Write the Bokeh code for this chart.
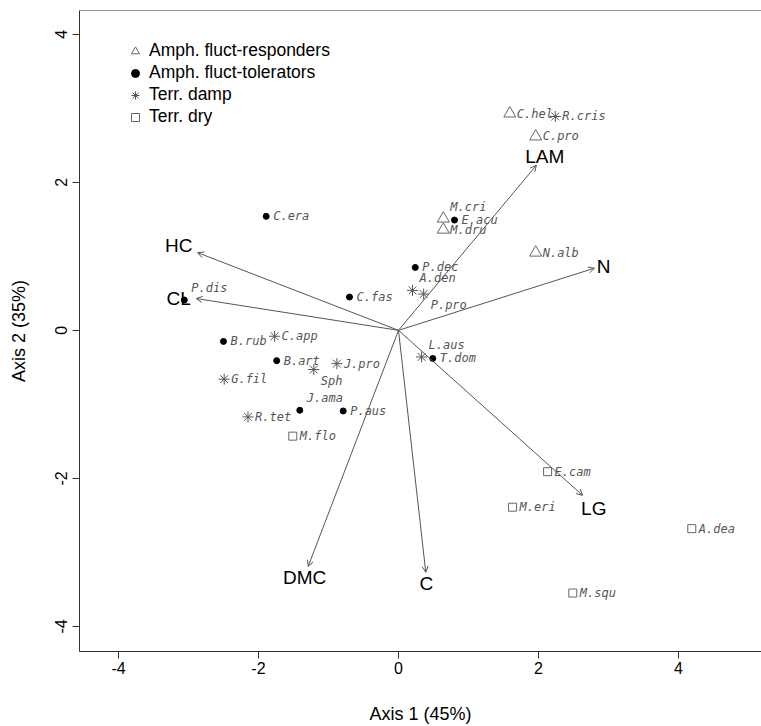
from bokeh.plotting import figure
from bokeh.models import (ColumnDataSource, Arrow, OpenHead, Legend, LegendItem,
                          FixedTicker, Span, Range1d)
from bokeh.core.properties import value
from bokeh.embed import file_html
from bokeh.resources import INLINE

# ---------------- data ----------------
groups = ["Amph. fluct-responders", "Amph. fluct-tolerators", "Terr. damp", "Terr. dry"]

resp_names = ["C.hel", "C.pro", "M.cri", "M.dru", "N.alb"]
resp_x = [1.59, 1.96, 0.64, 0.64, 1.96]
resp_y = [2.93, 2.62, 1.51, 1.36, 1.05]
resp_place = ["right", "right", "above", "right", "right"]

tol_names = ["C.era", "P.dis", "C.fas", "E.acu", "P.dec", "B.rub", "B.art", "J.ama", "P.aus", "T.dom"]
tol_x = [-1.89, -3.06, -0.70, 0.80, 0.24, -2.50, -1.74, -1.41, -0.79, 0.49]
tol_y = [1.54, 0.41, 0.45, 1.49, 0.85, -0.15, -0.41, -1.08, -1.09, -0.38]
tol_place = ["right", "above", "right", "right", "right", "right", "right", "above", "right", "right"]

damp_names = ["R.cris", "A.den", "P.pro", "L.aus", "C.app", "Sph", "J.pro", "G.fil", "R.tet"]
damp_x = [2.24, 0.20, 0.36, 0.33, -1.77, -1.21, -0.88, -2.49, -2.15]
damp_y = [2.89, 0.54, 0.49, -0.36, -0.08, -0.53, -0.45, -0.66, -1.17]
damp_place = ["right", "above", "below", "above", "right", "below", "right", "right", "right"]

dry_names = ["M.flo", "E.cam", "M.eri", "A.dea", "M.squ"]
dry_x = [-1.51, 2.13, 1.63, 4.19, 2.49]
dry_y = [-1.43, -1.91, -2.39, -2.68, -3.55]
dry_place = ["right", "right", "right", "right", "right"]

var_names = ["LAM", "N", "HC", "CL", "LG", "DMC", "C"]
var_x = [1.97, 2.80, -2.87, -2.89, 2.63, -1.29, 0.39]
var_y = [2.23, 0.84, 1.05, 0.43, -2.23, -3.19, -3.27]
var_label_x = [2.09, 2.93, -3.14, -3.14, 2.79, -1.34, 0.40]
var_label_y = [2.35, 0.86, 1.14, 0.43, -2.41, -3.34, -3.42]

tick_values = [-4, -2, 0, 2, 4]
tick_labels = ["-4", "-2", "0", "2", "4"]

x_title = "Axis 1 (45%)"
y_title = "Axis 2 (35%)"

# ---------------- figure ----------------
p = figure(width=761, height=726, title=None,
           x_range=Range1d(-4.557, 5.186), y_range=Range1d(-4.34, 4.322),
           output_backend="svg", toolbar_location=None,
           min_border_left=79, min_border_top=10, min_border_right=0, min_border_bottom=75)
p.grid.grid_line_color = None
p.outline_line_color = None
p.background_fill_color = "white"
p.border_fill_color = "white"

axis_col = "#333333"
for ax in (p.xaxis[0], p.yaxis[0]):
    ax.ticker = FixedTicker(ticks=tick_values)
    ax.major_label_overrides = {v: s for v, s in zip(tick_values, tick_labels)}
    ax.axis_line_color = axis_col
    ax.major_tick_line_color = axis_col
    ax.minor_tick_line_color = None
    ax.major_tick_in = 0
    ax.major_tick_out = 7
    ax.major_label_text_font = "Liberation Sans"
    ax.major_label_text_font_size = "16px"
    ax.major_label_text_color = "black"
    ax.axis_label_text_font = "Liberation Sans"
    ax.axis_label_text_font_size = "18px"
    ax.axis_label_text_font_style = "normal"
    ax.axis_label_text_color = "black"

p.xaxis[0].axis_label = x_title
p.xaxis[0].major_label_standoff = 3
p.xaxis[0].axis_label_standoff = 27
p.yaxis[0].axis_label = y_title
p.yaxis[0].major_label_orientation = "vertical"
p.yaxis[0].major_label_standoff = 5
p.yaxis[0].axis_label_standoff = 24

# top border line of the box
p.add_layout(Span(location=p.y_range.end, dimension="width",
                  line_color=axis_col, line_width=1))

# ---------------- arrows ----------------
n_var = len(var_names)
arr_src = ColumnDataSource(dict(x0=[0.0] * n_var, y0=[0.0] * n_var, x1=var_x, y1=var_y))
p.add_layout(Arrow(source=arr_src, x_start="x0", y_start="y0", x_end="x1", y_end="y1",
                   line_color="#555555", line_width=1,
                   end=OpenHead(size=6, line_color="#555555", line_width=1)))
p.text(x=var_label_x, y=var_label_y, text=var_names, text_align="center",
       text_baseline="middle", text_font=value("Liberation Sans"),
       text_font_size="19px", text_color="black")

# ---------------- species ----------------
offsets = {"right": (7, 0), "above": (7, -12), "below": (7, 11)}
marker_styles = [
    dict(marker="triangle", size=12, line_color="#666666", fill_color=None, line_width=1),
    dict(marker="circle", size=6, line_color="black", fill_color="black", line_width=1),
    dict(marker="asterisk", size=11, line_color="#555555", line_width=1),
    dict(marker="square", size=8, line_color="#666666", fill_color=None, line_width=1),
]
data_sets = [
    (resp_names, resp_x, resp_y, resp_place),
    (tol_names, tol_x, tol_y, tol_place),
    (damp_names, damp_x, damp_y, damp_place),
    (dry_names, dry_x, dry_y, dry_place),
]

items = []
for g, (names, xs, ys, places), style in zip(groups, data_sets, marker_styles):
    src = ColumnDataSource(dict(x=xs, y=ys, name=names,
                                dx=[offsets[pl][0] for pl in places],
                                dy=[offsets[pl][1] for pl in places]))
    r = p.scatter(x="x", y="y", source=src, **style)
    p.text(x="x", y="y", text="name", source=src, x_offset="dx", y_offset="dy",
           text_align="left", text_baseline="middle",
           text_font=value("DejaVu Sans Mono"), text_font_style="italic",
           text_font_size="12px", text_color="#555555")
    items.append(LegendItem(label=g, renderers=[r]))

# legend placed in screen pixels from the frame's bottom-left corner
frame_h = 726 - 10 - 75
legend_h = 4 * 20 + 3 * 1
legend = Legend(items=items, location=(46, frame_h - 34 - legend_h), margin=0, padding=0,
                glyph_width=20, glyph_height=20, label_height=20, label_standoff=4,
                spacing=1, border_line_color=None, background_fill_alpha=0,
                label_text_font="Liberation Sans", label_text_font_size="17.5px",
                label_text_color="black")
p.add_layout(legend)

open("out.html", "w").write(file_html(p, INLINE))
